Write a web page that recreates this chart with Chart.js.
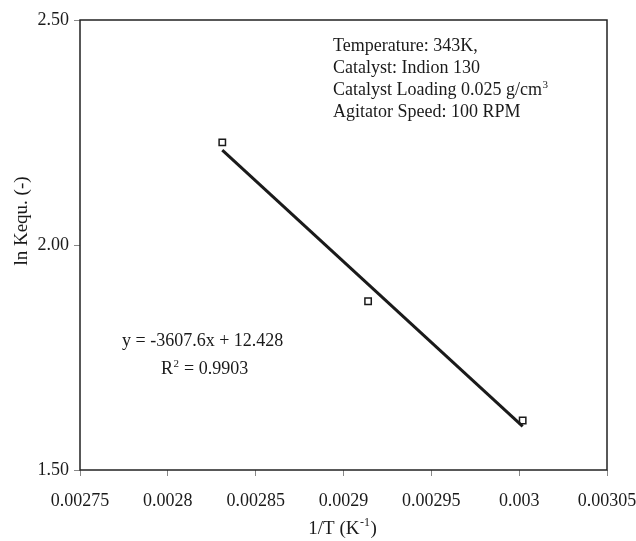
<!DOCTYPE html>
<html>
<head>
<meta charset="utf-8">
<script src="https://cdn.jsdelivr.net/npm/chart.js@4/dist/chart.umd.min.js"></script>
<style>
  html, body { margin: 0; padding: 0; background: #fff; }
  #wrap { width: 636px; height: 541px; }
</style>
</head>
<body>
<div id="wrap"><canvas id="c" width="636" height="541"></canvas></div>
<script>
// measured points: 1/T vs ln Kequ
const invT = [0.002831, 0.002914, 0.003002];
const lnK = [2.228, 1.875, 1.61];

// linear fit drawn over the data range
const fitX = [0.002831, 0.003002];
const fitY = [2.211, 1.597];

const xTicks = [0.00275, 0.0028, 0.00285, 0.0029, 0.00295, 0.003, 0.00305];
const xTickLabels = ["0.00275", "0.0028", "0.00285", "0.0029", "0.00295", "0.003", "0.00305"];
const yTicks = [1.5, 2.0, 2.5];
const yTickLabels = ["1.50", "2.00", "2.50"];

const notes = ["Temperature: 343K,", "Catalyst: Indion 130", "Catalyst Loading 0.025 g/cm", "Agitator Speed: 100 RPM"];
const serif = "'Liberation Serif', 'Times New Roman', serif";

// text with a small raised part (superscripts)
function supText(ctx, x, y, base, sup, size, after) {
    ctx.font = size + "px " + serif;
    ctx.fillText(base, x, y);
    let w = ctx.measureText(base).width;
    ctx.font = Math.round(size * 0.62) + "px " + serif;
    ctx.fillText(sup, x + w + 0.5, y - size * 0.4);
    let w2 = ctx.measureText(sup).width;
    if (after) {
        ctx.font = size + "px " + serif;
        ctx.fillText(after, x + w + w2 + 1, y);
    }
}

const extras = {
    id: "extras",
    afterDraw(chart) {
        const ctx = chart.ctx;
        const a = chart.chartArea;
        ctx.save();
        ctx.strokeStyle = "#222";
        ctx.lineWidth = 1.5;
        ctx.strokeRect(a.left, a.top, a.right - a.left, a.bottom - a.top);

        ctx.fillStyle = "#1a1a1a";
        ctx.textBaseline = "alphabetic";
        ctx.textAlign = "left";
        ctx.font = "18px " + serif;
        ctx.fillText(notes[0], 333, 51);
        ctx.fillText(notes[1], 333, 73);
        supText(ctx, 333, 95, notes[2], "3", 18);
        ctx.font = "18px " + serif;
        ctx.fillText(notes[3], 333, 117);

        ctx.font = "18px " + serif;
        ctx.fillText("y = -3607.6x + 12.428", 122, 346);
        supText(ctx, 161, 374, "R", "2", 18, " = 0.9903");

        // y axis title
        ctx.save();
        ctx.translate(27, 221);
        ctx.rotate(-Math.PI / 2);
        ctx.textAlign = "center";
        ctx.font = "19px " + serif;
        ctx.fillText("ln Kequ. (-)", 0, 0);
        ctx.restore();

        // x axis title
        ctx.font = "19px " + serif;
        let t1 = "1/T (K", t2 = "-1", t3 = ")";
        let w = ctx.measureText(t1).width + ctx.measureText(t3).width;
        ctx.font = "12px " + serif;
        w += ctx.measureText(t2).width;
        let xc = 342 - w / 2;
        supText(ctx, xc, 534, t1, t2, 19, t3);
        ctx.restore();
    }
};

new Chart(document.getElementById("c"), {
    type: "scatter",
    data: {
        datasets: [{
            label: "fit",
            data: fitX.map((x, i) => ({ x, y: fitY[i] })),
            showLine: true,
            borderColor: "#1a1a1a",
            borderWidth: 3,
            pointRadius: 0
        }, {
            label: "ln Kequ",
            data: invT.map((x, i) => ({ x, y: lnK[i] })),
            pointStyle: "rect",
            pointRadius: 4.5,
            pointBackgroundColor: "#fff",
            pointBorderColor: "#1a1a1a",
            pointBorderWidth: 1.5
        }]
    },
    options: {
        responsive: false,
        animation: false,
        layout: { padding: { left: 0, right: 0, top: 0, bottom: 0 } },
        plugins: { legend: { display: false }, tooltip: { enabled: false } },
        scales: {
            x: {
                type: "linear",
                min: 0.00275,
                max: 0.00305,
                afterBuildTicks: s => { s.ticks = xTicks.map(v => ({ value: v })); },
                afterFit: s => { s.height = 71; s.paddingLeft = 0; s.paddingRight = 29; },
                grid: { drawOnChartArea: false, tickLength: 6, color: "#888", tickColor: "#888" },
                border: { display: false },
                ticks: {
                    color: "#1a1a1a",
                    padding: 14,
                    maxRotation: 0,
                    font: { family: serif, size: 18 },
                    callback: (v, i) => xTickLabels[i]
                }
            },
            y: {
                min: 1.5,
                max: 2.5,
                afterBuildTicks: s => { s.ticks = yTicks.map(v => ({ value: v })); },
                afterFit: s => { s.width = 80; s.paddingTop = 20; s.paddingBottom = 0; },
                grid: { drawOnChartArea: false, tickLength: 6, color: "#888", tickColor: "#888" },
                border: { display: false },
                ticks: {
                    color: "#1a1a1a",
                    padding: 5,
                    font: { family: serif, size: 18 },
                    callback: (v, i) => yTickLabels[i]
                }
            }
        }
    },
    plugins: [extras]
});
</script>
</body>
</html>
